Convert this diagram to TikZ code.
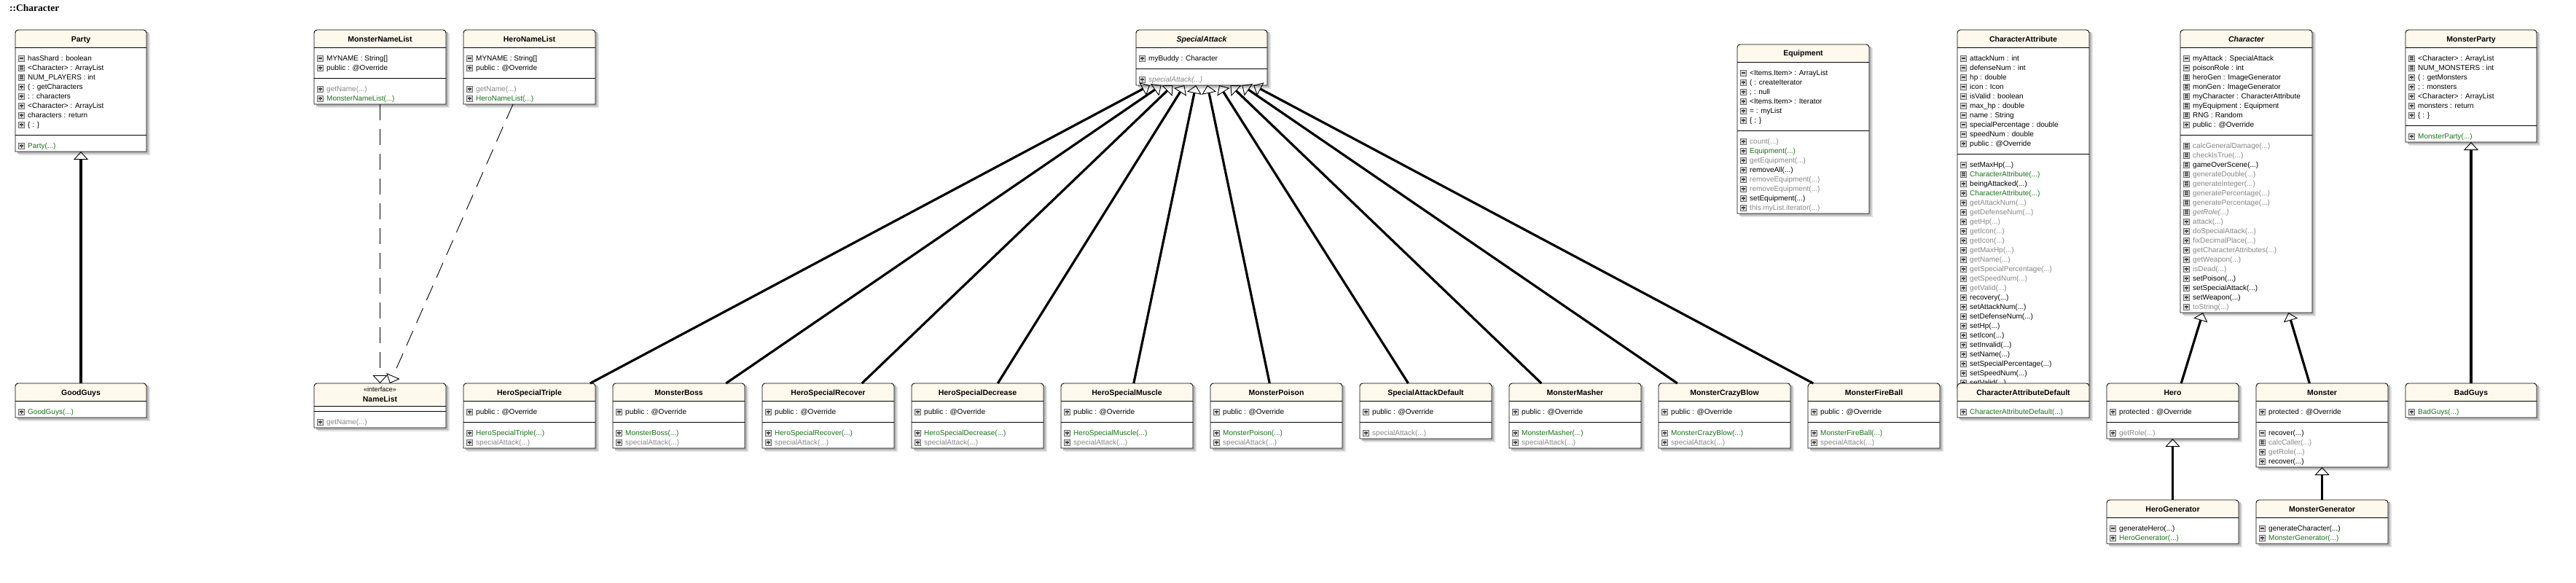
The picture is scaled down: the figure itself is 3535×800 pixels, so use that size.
\documentclass[tikz,border=0pt]{standalone}
\usepackage{fontspec}
\setmainfont{Liberation Sans}
\newfontfamily\titlefont{Liberation Serif}
\usetikzlibrary{arrows.meta}
\definecolor{hdr}{RGB}{253,249,236}
\definecolor{tgray}{RGB}{135,135,135}
\definecolor{tgreen}{RGB}{25,115,25}
\definecolor{icoline}{RGB}{110,110,110}
\definecolor{icofill}{RGB}{215,215,215}
\tikzset{
  bline/.style={line width=0.9pt, black},
  row/.style={anchor=base west, inner sep=0pt, font=\fontsize{10}{12}\selectfont},
  tk/.style={text=black}, tg/.style={text=tgray}, tn/.style={text=tgreen},
  ti/.style={text=tgray, font=\fontsize{10}{12}\selectfont\itshape},
  ttl/.style={anchor=base, inner sep=0pt, font=\fontsize{10.5}{12}\selectfont\bfseries},
  boxnode/.style={rectangle, inner sep=0pt, outer sep=0pt, draw=none},
  icob/.style={draw=icoline, fill=icofill, line width=0.7pt},
  icos/.style={draw=black!75, line width=1.1pt},
  pics/icop/.style={code={\draw[icob] (-4,-4) rectangle (4,4); \draw[icos] (-2.5,0)--(2.5,0) (0,-2.5)--(0,2.5);}},
  pics/icom/.style={code={\draw[icob] (-4,-4) rectangle (4,4); \draw[icos] (-2.5,0)--(2.5,0);}},
  pics/icoh/.style={code={\draw[icob] (-4,-4) rectangle (4,4); \draw[icos, line width=0.7pt] (-1.3,-2.8)--(-1.3,2.8) (1.3,-2.8)--(1.3,2.8) (-2.8,-1.3)--(2.8,-1.3) (-2.8,1.3)--(2.8,1.3);}},
  gen/.style={line width=3.2pt, -{Triangle[open, length=11pt, width=20pt, line width=0.9pt]}},
  real/.style={line width=0.9pt, dash pattern=on 22pt off 12pt, -{Triangle[open, length=11pt, width=20pt, line width=0.9pt]}},
}
% #1 name, #2 x, #3 y, #4 w, #5 h, #6 header height, #7 title
\newcommand\UmlClass[7]{%
  \xdef\cx{#2}\xdef\cy{#3}\xdef\cw{#4}%
  \fill[black!12] (#2+5,#3+5) rectangle (#2+#4+5,#3+#5+5);
  \fill[black!28] (#2+3,#3+3) rectangle (#2+#4+3,#3+#5+3);
  \node[boxnode, minimum width=#4pt, minimum height=#5pt] (#1) at (#2+#4/2,#3+#5/2) {};
  \fill[white] (#2,#3+4) rectangle (#2+#4,#3+#5);
  \fill[hdr] (#2,#3+#6) -- (#2,#3+4) .. controls (#2,#3+1.8) and (#2+1.8,#3) .. (#2+4,#3) -- (#2+#4-4,#3) .. controls (#2+#4-1.8,#3) and (#2+#4,#3+1.8) .. (#2+#4,#3+4) -- (#2+#4,#3+#6) -- cycle;
  \draw[bline] (#2,#3+#5) -- (#2,#3+4) .. controls (#2,#3+1.8) and (#2+1.8,#3) .. (#2+4,#3) -- (#2+#4-4,#3) .. controls (#2+#4-1.8,#3) and (#2+#4,#3+1.8) .. (#2+#4,#3+4) -- (#2+#4,#3+#5) -- cycle;
  \draw[bline] (#2,#3+#6) -- (#2+#4,#3+#6);
  \node[ttl] at (#2+#4/2,#3+16) {#7};
  \pgfmathsetmacro\tmp{#3+#6+15}\xdef\ry{\tmp}%
}
\newcommand\Row[3]{%
  \pic at (\cx+8.5,\ry) {ico#1};
  \node[row,#2] at (\cx+17,\ry+3.6) {#3};
  \pgfmathsetmacro\tmp{\ry+13}\xdef\ry{\tmp}%
}
\newcommand\SepLine{%
  \pgfmathsetmacro\tmp{\ry+1}%
  \draw[bline] (\cx,\tmp) -- (\cx+\cw,\tmp);
  \pgfmathsetmacro\tmp{\ry+16}\xdef\ry{\tmp}%
}
\newcommand\SubSA[2]{% name, x
  \UmlClass{#1}{#2}{526}{181}{89}{24}{#1}
  \Row{p}{tk}{public : @Override}
  \SepLine
  \Row{p}{tn}{#1(...)}
  \Row{p}{tg}{specialAttack(...)}
}
\begin{document}
\begin{tikzpicture}[x=1pt,y=-1pt]
\fill[white] (0,0) rectangle (3535,800);
\useasboundingbox (0,0) rectangle (3535,800);
\node[anchor=base west, inner sep=0pt, font=\titlefont\fontsize{13.5}{15}\selectfont\bfseries] (ttl) at (13,16) {::Character};

% Party
\UmlClass{Party}{21}{41}{180}{167}{24}{Party}
\Row{m}{tk}{hasShard : boolean}
\Row{h}{tk}{<Character> : ArrayList}
\Row{h}{tk}{NUM\_PLAYERS : int}
\Row{p}{tk}{( : getCharacters}
\Row{p}{tk}{; : characters}
\Row{p}{tk}{<Character> : ArrayList}
\Row{p}{tk}{characters : return}
\Row{p}{tk}{\{ : \}}
\SepLine
\Row{p}{tn}{Party(...)}

% MonsterNameList
\UmlClass{MonsterNameList}{431}{41}{181}{102}{24}{MonsterNameList}
\Row{m}{tk}{MYNAME : String[]}
\Row{p}{tk}{public : @Override}
\SepLine
\Row{p}{tg}{getName(...)}
\Row{p}{tn}{MonsterNameList(...)}

% HeroNameList
\UmlClass{HeroNameList}{636}{41}{181}{102}{24}{HeroNameList}
\Row{m}{tk}{MYNAME : String[]}
\Row{p}{tk}{public : @Override}
\SepLine
\Row{p}{tg}{getName(...)}
\Row{p}{tn}{HeroNameList(...)}

% SpecialAttack
\UmlClass{SpecialAttack}{1559}{41}{180}{76}{24}{\itshape SpecialAttack}
\Row{p}{tk}{myBuddy : Character}
\SepLine
\Row{p}{ti}{specialAttack(...)}

% Equipment
\UmlClass{Equipment}{2384}{61}{181}{232}{24}{Equipment}
\Row{m}{tk}{<Items.Item> : ArrayList}
\Row{p}{tk}{( : createIterator}
\Row{p}{tk}{; : null}
\Row{p}{tk}{<Items.Item> : Iterator}
\Row{p}{tk}{= : myList}
\Row{p}{tk}{\{ : \}}
\SepLine
\Row{p}{tg}{count(...)}
\Row{p}{tn}{Equipment(...)}
\Row{p}{tg}{getEquipment(...)}
\Row{p}{tk}{removeAll(...)}
\Row{p}{tg}{removeEquipment(...)}
\Row{p}{tg}{removeEquipment(...)}
\Row{p}{tk}{setEquipment(...)}
\Row{p}{tg}{this.myList.iterator(...)}

% CharacterAttribute
\UmlClass{CharacterAttribute}{2686}{41}{181}{492}{24}{CharacterAttribute}
\Row{m}{tk}{attackNum : int}
\Row{m}{tk}{defenseNum : int}
\Row{m}{tk}{hp : double}
\Row{m}{tk}{icon : Icon}
\Row{m}{tk}{isValid : boolean}
\Row{m}{tk}{max\_hp : double}
\Row{m}{tk}{name : String}
\Row{m}{tk}{specialPercentage : double}
\Row{m}{tk}{speedNum : double}
\Row{p}{tk}{public : @Override}
\SepLine
\Row{m}{tk}{setMaxHp(...)}
\Row{h}{tn}{CharacterAttribute(...)}
\Row{p}{tk}{beingAttacked(...)}
\Row{p}{tn}{CharacterAttribute(...)}
\Row{p}{tg}{getAttackNum(...)}
\Row{p}{tg}{getDefenseNum(...)}
\Row{p}{tg}{getHp(...)}
\Row{p}{tg}{getIcon(...)}
\Row{p}{tg}{getIcon(...)}
\Row{p}{tg}{getMaxHp(...)}
\Row{p}{tg}{getName(...)}
\Row{p}{tg}{getSpecialPercentage(...)}
\Row{p}{tg}{getSpeedNum(...)}
\Row{p}{tg}{getValid(...)}
\Row{p}{tk}{recovery(...)}
\Row{p}{tk}{setAttackNum(...)}
\Row{p}{tk}{setDefenseNum(...)}
\Row{p}{tk}{setHp(...)}
\Row{p}{tk}{setIcon(...)}
\Row{p}{tk}{setInvalid(...)}
\Row{p}{tk}{setName(...)}
\Row{p}{tk}{setSpecialPercentage(...)}
\Row{p}{tk}{setSpeedNum(...)}
\Row{p}{tk}{setValid(...)}

% CharacterAttributeDefault
\UmlClass{CharacterAttributeDefault}{2686}{526}{181}{47}{24}{CharacterAttributeDefault}
\Row{p}{tn}{CharacterAttributeDefault(...)}

% Character
\UmlClass{Character}{2992}{41}{181}{388}{24}{\itshape Character}
\Row{m}{tk}{myAttack : SpecialAttack}
\Row{m}{tk}{poisonRole : int}
\Row{h}{tk}{heroGen : ImageGenerator}
\Row{h}{tk}{monGen : ImageGenerator}
\Row{h}{tk}{myCharacter : CharacterAttribute}
\Row{h}{tk}{myEquipment : Equipment}
\Row{h}{tk}{RNG : Random}
\Row{p}{tk}{public : @Override}
\SepLine
\Row{h}{tg}{calcGeneralDamage(...)}
\Row{h}{tg}{checkIsTrue(...)}
\Row{h}{tk}{gameOverScene(...)}
\Row{h}{tg}{generateDouble(...)}
\Row{h}{tg}{generateInteger(...)}
\Row{h}{tg}{generatePercentage(...)}
\Row{h}{tg}{generatePercentage(...)}
\Row{h}{ti}{getRole(...)}
\Row{p}{tg}{attack(...)}
\Row{p}{tg}{doSpecialAttack(...)}
\Row{p}{tg}{fixDecimalPlace(...)}
\Row{p}{tg}{getCharacterAttributes(...)}
\Row{p}{tg}{getWeapon(...)}
\Row{p}{tg}{isDead(...)}
\Row{p}{tk}{setPoison(...)}
\Row{p}{tk}{setSpecialAttack(...)}
\Row{p}{tk}{setWeapon(...)}
\Row{p}{tg}{toString(...)}

% MonsterParty
\UmlClass{MonsterParty}{3301}{41}{180}{154}{24}{MonsterParty}
\Row{h}{tk}{<Character> : ArrayList}
\Row{h}{tk}{NUM\_MONSTERS : int}
\Row{p}{tk}{( : getMonsters}
\Row{p}{tk}{; : monsters}
\Row{p}{tk}{<Character> : ArrayList}
\Row{p}{tk}{monsters : return}
\Row{p}{tk}{\{ : \}}
\SepLine
\Row{p}{tn}{MonsterParty(...)}

% bottom row
\UmlClass{GoodGuys}{21}{526}{180}{47}{24}{GoodGuys}
\Row{p}{tn}{GoodGuys(...)}

\UmlClass{NameList}{431}{526}{181}{61}{31}{}
\node[anchor=base, inner sep=0pt, font=\fontsize{9}{10}\selectfont] (nlst) at (521.5,537) {<<interface>>};
\node[ttl] (nlt) at (521.5,551) {NameList};
\draw[bline] (431,564) -- (612,564);
\xdef\ry{579}
\Row{p}{tg}{getName(...)}

\SubSA{HeroSpecialTriple}{636}
\SubSA{MonsterBoss}{841}
\SubSA{HeroSpecialRecover}{1046}
\SubSA{HeroSpecialDecrease}{1251}
\SubSA{HeroSpecialMuscle}{1456}
\SubSA{MonsterPoison}{1661}
\UmlClass{SpecialAttackDefault}{1866}{526}{181}{76}{24}{SpecialAttackDefault}
\Row{p}{tk}{public : @Override}
\SepLine
\Row{p}{tg}{specialAttack(...)}
\SubSA{MonsterMasher}{2071}
\SubSA{MonsterCrazyBlow}{2276}
\SubSA{MonsterFireBall}{2481}

\UmlClass{Hero}{2891}{526}{181}{76}{24}{Hero}
\Row{p}{tk}{protected : @Override}
\SepLine
\Row{p}{tg}{getRole(...)}

\UmlClass{Monster}{3096}{526}{181}{115}{24}{Monster}
\Row{p}{tk}{protected : @Override}
\SepLine
\Row{m}{tk}{recover(...)}
\Row{h}{tg}{calcCaller(...)}
\Row{p}{tg}{getRole(...)}
\Row{p}{tk}{recover(...)}

\UmlClass{BadGuys}{3301}{526}{180}{47}{24}{BadGuys}
\Row{p}{tn}{BadGuys(...)}

\UmlClass{HeroGenerator}{2891}{686}{181}{60}{24}{HeroGenerator}
\Row{m}{tk}{generateHero(...)}
\Row{p}{tn}{HeroGenerator(...)}

\UmlClass{MonsterGenerator}{3096}{686}{181}{60}{24}{MonsterGenerator}
\Row{m}{tk}{generateCharacter(...)}
\Row{p}{tn}{MonsterGenerator(...)}

% connectors
\draw[gen] (GoodGuys) -- (Party);
\draw[gen] (BadGuys) -- (MonsterParty);
\draw[gen] (HeroGenerator) -- (Hero);
\draw[gen] (MonsterGenerator) -- (Monster);
\draw[gen] (Hero) -- (Character);
\draw[gen] (Monster) -- (Character);
\foreach \n in {HeroSpecialTriple,MonsterBoss,HeroSpecialRecover,HeroSpecialDecrease,HeroSpecialMuscle,MonsterPoison,SpecialAttackDefault,MonsterMasher,MonsterCrazyBlow,MonsterFireBall}
  \draw[gen] (\n) -- (SpecialAttack);
\draw[real] (MonsterNameList) -- (NameList);
\draw[real] (HeroNameList) -- (NameList);
\end{tikzpicture}
\end{document}
